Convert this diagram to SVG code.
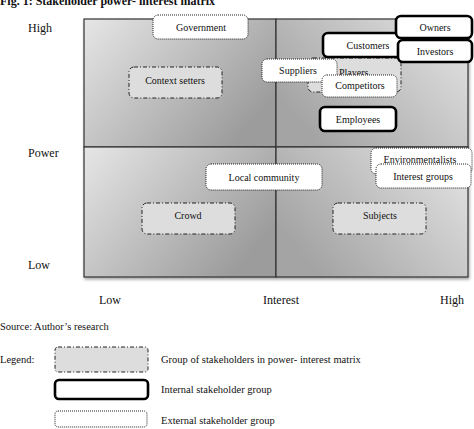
<svg xmlns="http://www.w3.org/2000/svg" width="474" height="429" viewBox="0 0 474 429">
<defs>
<linearGradient id="gL" x1="0" y1="0" x2="1" y2="0.6">
<stop offset="0" stop-color="#e6e6e6"/><stop offset="1" stop-color="#9c9c9c"/>
</linearGradient>
<linearGradient id="gR" x1="0" y1="0.6" x2="1" y2="0">
<stop offset="0" stop-color="#a4a4a4"/><stop offset="1" stop-color="#e6e6e6"/>
</linearGradient>
<filter id="sh" x="-5%" y="-5%" width="110%" height="115%"><feDropShadow dx="1" dy="2" stdDeviation="1.5" flood-color="#000" flood-opacity="0.35"/></filter>
</defs>
<style>
text{font-family:"Liberation Serif","Times New Roman",serif;fill:#111}
.ax{font-size:12px}
.nd{font-size:10px;text-anchor:middle}
.lg{font-size:10.5px}
.grp{fill:#dddddd;stroke:#222;stroke-width:1;stroke-dasharray:4 2 1 2}
.int{fill:#fff;stroke:#000;stroke-width:2.6}
.ext{fill:#fff;stroke:#222;stroke-width:1;stroke-dasharray:1 1}
.q{stroke:#333;stroke-width:1.2}
</style>
<text x="0" y="5" style="font-size:12px;font-weight:bold">Fig. 1: Stakeholder power- interest matrix</text>
<g id="matrix" filter="url(#sh)">
<rect class="q" x="84" y="19" width="192" height="128" fill="url(#gL)"/>
<rect class="q" x="276" y="19" width="192" height="128" fill="url(#gR)"/>
<rect class="q" x="84" y="147" width="192" height="130" fill="url(#gL)"/>
<rect class="q" x="276" y="147" width="192" height="130" fill="url(#gR)"/>
</g>
<g id="axes">
<text class="ax" x="28" y="32">High</text>
<text class="ax" x="28" y="157">Power</text>
<text class="ax" x="28" y="269">Low</text>
<text class="ax" x="110" y="304" text-anchor="middle">Low</text>
<text class="ax" x="281" y="304" text-anchor="middle">Interest</text>
<text class="ax" x="452" y="304" text-anchor="middle">High</text>
</g>
<g id="government"><rect class="ext" x="153" y="15" width="95" height="24" rx="5"/><text class="nd" x="201" y="31">Government</text></g>
<g id="context-setters"><rect class="grp" x="129" y="67" width="93" height="31" rx="5"/><text class="nd" x="175" y="84">Context setters</text></g>
<g id="crowd"><rect class="grp" x="142" y="203" width="93" height="31" rx="5"/><text class="nd" x="188" y="219">Crowd</text></g>
<g id="local-community"><rect class="ext" x="206" y="164" width="116" height="26" rx="5"/><text class="nd" x="264" y="181">Local community</text></g>
<g id="subjects"><rect class="grp" x="333" y="203" width="93" height="31" rx="5"/><text class="nd" x="380" y="219">Subjects</text></g>
<g id="environmentalists"><rect class="ext" x="371" y="148" width="101" height="26" rx="5"/><text class="nd" x="420" y="163">Environmentalists</text></g>
<g id="interest-groups"><rect class="ext" x="376" y="164" width="95" height="24" rx="5"/><text class="nd" x="423" y="180">Interest groups</text></g>
<g id="players"><rect class="grp" x="308" y="58" width="93" height="34" rx="5"/><text class="nd" x="339" y="76" text-anchor="start" style="text-anchor:start">Players</text></g>
<g id="suppliers"><rect class="ext" x="262" y="59" width="75" height="23" rx="5"/><text class="nd" x="298" y="74">Suppliers</text></g>
<g id="competitors"><rect class="ext" x="322" y="75" width="75" height="22" rx="5"/><text class="nd" x="360" y="89">Competitors</text></g>
<g id="customers"><rect class="int" x="323" y="33" width="89" height="24" rx="5"/><text class="nd" x="368" y="49">Customers</text></g>
<g id="owners"><rect class="int" x="396" y="16" width="76" height="22" rx="5"/><text class="nd" x="435" y="31">Owners</text></g>
<g id="investors"><rect class="int" x="398" y="40" width="74" height="22" rx="5"/><text class="nd" x="435" y="55">Investors</text></g>
<g id="employees"><rect class="int" x="320" y="107" width="76" height="24" rx="5"/><text class="nd" x="358" y="123">Employees</text></g>
<text class="lg" x="0" y="330">Source: Author’s research</text>
<g id="legend">
<text class="lg" x="0" y="363">Legend:</text>
<rect class="grp" x="55" y="347" width="93" height="25" rx="3"/>
<text class="lg" x="161" y="363">Group of stakeholders in power- interest matrix</text>
<rect class="int" x="55" y="380" width="93" height="19" rx="4"/>
<text class="lg" x="161" y="393">Internal stakeholder group</text>
<rect class="ext" x="55" y="411" width="92" height="16" rx="3"/>
<text class="lg" x="161" y="424">External stakeholder group</text>
</g>
</svg>
